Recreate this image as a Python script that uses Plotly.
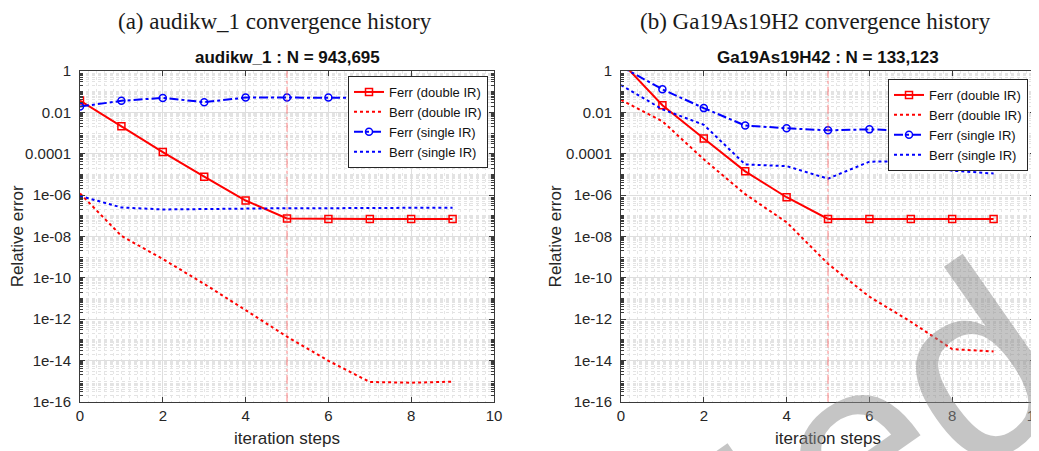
import plotly.graph_objects as go

# ---------------- data ----------------
steps = [0, 1, 2, 3, 4, 5, 6, 7, 8, 9]

# (a) audikw_1
a_ferr_double = [3.7e-2, 2.1e-3, 1.2e-4, 7.7e-6, 5.4e-7, 7.4e-8, 7.0e-8, 7.0e-8, 7.0e-8, 7.0e-8]
a_berr_double = [1.2e-6, 1.05e-8, 8.0e-10, 5.0e-11, 2.7e-12, 1.4e-13, 9.5e-15, 9.0e-16, 8.3e-16, 9.3e-16]
a_ferr_single = [1.9e-2, 3.6e-2, 5.0e-2, 3.1e-2, 5.2e-2, 5.2e-2, 5.2e-2, 5.0e-2, 5.0e-2, 5.0e-2]
a_berr_single = [9.0e-7, 2.5e-7, 2.0e-7, 2.1e-7, 2.3e-7, 2.3e-7, 2.3e-7, 2.4e-7, 2.4e-7, 2.4e-7]

# (b) Ga19As19H42
g_ferr_double = [2.9, 2.2e-2, 5.4e-4, 1.4e-5, 7.8e-7, 6.9e-8, 7.0e-8, 7.0e-8, 7.0e-8, 7.0e-8]
g_berr_double = [4.0e-2, 3.7e-3, 5.3e-5, 1.1e-6, 4.8e-8, 4.7e-10, 1.2e-11, 7.4e-13, 3.5e-14, 2.7e-14]
g_ferr_single = [1.66, 1.3e-1, 1.6e-2, 2.3e-3, 1.7e-3, 1.35e-3, 1.5e-3, 1.3e-3, 1.3e-3, 1.3e-3]
g_berr_single = [2.1e-1, 1.4e-2, 2.5e-3, 3.0e-5, 2.5e-5, 6.2e-6, 4.1e-5, 4.4e-5, 1.5e-5, 1.1e-5]

converged_step = 5

series_names = ["Ferr (double IR)", "Berr (double IR)", "Ferr (single IR)", "Berr (single IR)"]
panel_titles = ["audikw_1 : N = 943,695", "Ga19As19H42 : N = 133,123"]
captions = ["(a) audikw_1 convergence history", "(b) Ga19As19H2 convergence history"]
x_tick_vals = [0, 2, 4, 6, 8, 10]
y_tick_exps = [0, -2, -4, -6, -8, -10, -12, -14, -16]
y_tick_text = ["1", "0.01", "0.0001", "1e-06", "1e-08", "1e-10", "1e-12", "1e-14", "1e-16"]
watermark = "Accepted"

# ---------------- figure ----------------
W, H = 1039, 451
PAGE_OFFSET = 8  # the page body margin shifts the figure by this many pixels
SANS = "Liberation Sans, Arial, Helvetica, sans-serif"
RED = "#ff0000"
BLUE = "#0000ff"

fig = go.Figure()

panels = [
    ("x", "y", "legend", [a_ferr_double, a_berr_double, a_ferr_single, a_berr_single]),
    ("x2", "y2", "legend2", [g_ferr_double, g_berr_double, g_ferr_single, g_berr_single]),
]

styles = [
    dict(mode="lines+markers", line=dict(color=RED, width=2),
         marker=dict(symbol="square-open", size=7, color=RED, line=dict(width=1.5, color=RED))),
    dict(mode="lines", line=dict(color=RED, width=2, dash="dot")),
    dict(mode="lines+markers", line=dict(color=BLUE, width=2, dash="dashdot"),
         marker=dict(symbol="circle-open", size=7, color=BLUE, line=dict(width=1.5, color=BLUE))),
    dict(mode="lines", line=dict(color=BLUE, width=2, dash="dot")),
]

for xa, ya, lg, sers in panels:
    for name, vals, st in zip(series_names, sers, styles):
        fig.add_trace(go.Scatter(x=steps, y=vals, name=name, xaxis=xa, yaxis=ya,
                                 legend=lg, **st))


def px_x(p):
    return (p - PAGE_OFFSET) / W


def px_y(p):
    return (H - (p - PAGE_OFFSET)) / H


y_dom = [px_y(401.7), px_y(71)]
x_doms = [[px_x(80), px_x(494)], [px_x(621), px_x(1035)]]

minor_y = [k * 10.0 ** e for e in range(-16, 0) for k in range(1, 10)
           if not (k == 1 and e % 2 == 0)]

axis_common = dict(showline=True, linecolor="#3a3a3a", linewidth=1, mirror="allticks",
                   ticks="inside", ticklen=5, tickcolor="#3a3a3a", automargin=False,
                   tickfont=dict(family=SANS, size=15, color="#262626"),
                   showgrid=True, gridcolor="#dedede", gridwidth=1, zeroline=False)

for i, (xa, ya) in enumerate([("xaxis", "yaxis"), ("xaxis2", "yaxis2")]):
    fig.layout[xa] = dict(
        domain=x_doms[i], range=[0, 10], tickmode="array", tickvals=x_tick_vals,
        anchor="y" if i == 0 else "y2",
        title=dict(text="iteration steps", font=dict(family=SANS, size=17, color="#262626"),
                   standoff=9),
        ticklabelstandoff=0,
        minor=dict(dtick=0.2, showgrid=True, griddash="dot", gridcolor="#e6e6e6", ticks=""),
        **axis_common)
    fig.layout[ya] = dict(
        domain=y_dom, type="log", range=[-16, 0], tickmode="array",
        tickvals=[10.0 ** e for e in y_tick_exps], ticktext=y_tick_text,
        anchor="x" if i == 0 else "x2",
        title=dict(text="Relative error", font=dict(family=SANS, size=17, color="#262626"),
                   standoff=0),
        ticklabelstandoff=5,
        minor=dict(tickvals=minor_y, showgrid=True, griddash="dot", gridcolor="#e3e3e3",
                   ticks="inside", ticklen=3, tickcolor="#3a3a3a"),
        **axis_common)

# converged-step marker lines
for xr in ["x", "x2"]:
    fig.add_shape(type="line", xref=xr, yref=("y domain" if xr == "x" else "y2 domain"),
                  x0=converged_step, x1=converged_step, y0=0, y1=1,
                  line=dict(color="rgba(255,70,70,0.85)", width=0.8, dash="dashdot"),
                  layer="above")

legend_common = dict(bgcolor="white", bordercolor="#262626", borderwidth=1,
                     font=dict(family=SANS, size=13, color="#111111"),
                     xanchor="left", yanchor="top", tracegroupgap=0,
                     itemwidth=30)
fig.update_layout(
    legend=dict(x=px_x(348), y=px_y(76), **legend_common),
    legend2=dict(x=px_x(888), y=px_y(79), **legend_common),
)

annotations = []
for i, t in enumerate(panel_titles):
    annotations.append(dict(text="<b>" + t + "</b>", x=sum(x_doms[i]) / 2, y=px_y(58),
                            xref="paper", yref="paper", showarrow=False,
                            xanchor="center", yanchor="middle",
                            font=dict(family=SANS, size=17, color="#111111")))
cap_x = [275, 815]
for i, c in enumerate(captions):
    annotations.append(dict(text=c, x=px_x(cap_x[i]), y=1.0, xref="paper", yref="paper",
                            showarrow=False, xanchor="center", yanchor="top", borderpad=0,
                            font=dict(family="Liberation Serif, DejaVu Serif, serif", size=23,
                                      color="#1a1a1a")))
# watermark (only its last letters fall inside the page)
annotations.append(dict(text=watermark, x=px_x(590), y=px_y(636), xref="paper", yref="paper",
                        showarrow=False, xanchor="center", yanchor="middle", textangle=-35,
                        font=dict(family=SANS, size=260, color="rgba(140,140,140,0.5)")))

fig.update_layout(
    width=W, height=H, margin=dict(l=0, r=0, t=0, b=0),
    paper_bgcolor="white", plot_bgcolor="white",
    annotations=annotations,
    showlegend=True,
)

fig.write_html("out.html")
